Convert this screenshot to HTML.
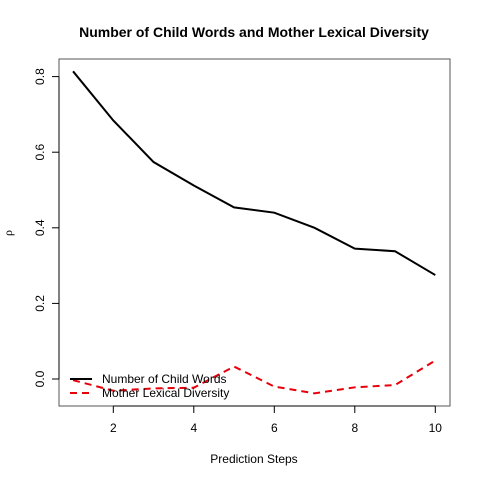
<!DOCTYPE html>
<html><head><meta charset="utf-8"><style>
body{margin:0;background:#fff}
svg{display:block;font-family:"Liberation Sans",sans-serif}
</style></head><body>
<svg id="chart" width="480" height="480" viewBox="0 0 480 480">
<text x="254" y="37" text-anchor="middle" font-size="14" font-weight="bold">Number of Child Words and Mother Lexical Diversity</text>
<rect x="59" y="59" width="391" height="347" fill="none" stroke="#555" stroke-width="1"/>
<g id="xaxis"></g>
<g id="yaxis"></g>
<text x="254" y="463" text-anchor="middle" font-size="12">Prediction Steps</text>
<text transform="translate(12,233) rotate(-90)" text-anchor="middle" font-size="12" font-family="Liberation Serif,serif">ρ</text>
<g id="series"></g>
<g>
<line x1="70" y1="379" x2="92" y2="379" stroke="#000" stroke-width="2"/>
<text x="102" y="383" font-size="12">Number of Child Words</text>
<line x1="70" y1="393" x2="92" y2="393" stroke="#e8000b" stroke-width="2" stroke-dasharray="7,5"/>
<text x="102" y="397" font-size="12">Mother Lexical Diversity</text>
</g>
</svg>
<script>
const steps=[1,2,3,4,5,6,7,8,9,10];
const childWords=[0.814,0.684,0.574,0.512,0.454,0.440,0.400,0.345,0.338,0.275];
const motherDiversity=[-0.003,-0.031,-0.025,-0.023,0.033,-0.020,-0.038,-0.022,-0.016,0.049];
const xTicks=[2,4,6,8,10];
const yTicks=[0.0,0.2,0.4,0.6,0.8];
const NS="http://www.w3.org/2000/svg";
const X=v=>113.3+(v-2)*40.25;
const Y=v=>379-v*378;
function mk(tag,attrs,parent){const e=document.createElementNS(NS,tag);for(const k in attrs)e.setAttribute(k,attrs[k]);parent.appendChild(e);return e;}
const xa=document.getElementById('xaxis'),ya=document.getElementById('yaxis'),sg=document.getElementById('series');
mk('line',{x1:X(2),x2:X(10),y1:406,y2:406,stroke:'#000'},xa);
xTicks.forEach(t=>{
 const l=mk('line',{x1:X(t),x2:X(t),y1:406,y2:413,stroke:'#000'},xa);
 
 
 const tx=mk('text',{x:X(t),y:432,'text-anchor':'middle','font-size':12},xa);tx.textContent=t;
 
 
});
mk('line',{x1:59,x2:59,y1:Y(0),y2:Y(0.8),stroke:'#000'},ya);
yTicks.forEach(t=>{
 const l=mk('line',{x1:52,x2:59,y1:Y(t),y2:Y(t),stroke:'#000'},ya);
 
 
 const tx=mk('text',{transform:`translate(44,${Y(t)}) rotate(-90)`,'text-anchor':'middle','font-size':12},ya);tx.textContent=t.toFixed(1);
 
 
});
const p1=mk('polyline',{points:steps.map((s,i)=>X(s)+','+Y(childWords[i])).join(' '),fill:'none',stroke:'#000','stroke-width':2},sg);


const p2=mk('polyline',{points:steps.map((s,i)=>X(s)+','+Y(motherDiversity[i])).join(' '),fill:'none',stroke:'#e8000b','stroke-width':2,'stroke-dasharray':'7,5'},sg);


</script>
</body></html>
